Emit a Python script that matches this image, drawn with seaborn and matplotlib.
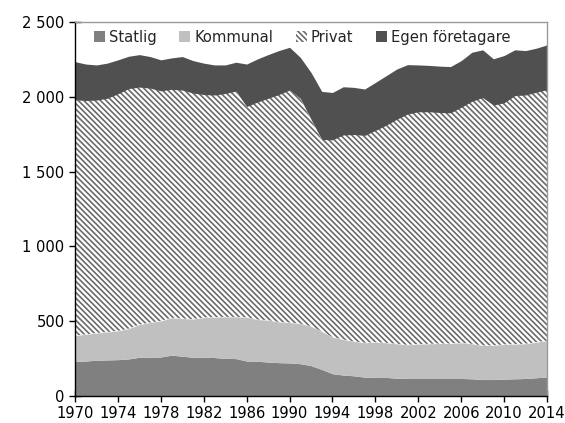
import numpy as np
import pandas as pd
import seaborn as sns
import matplotlib
matplotlib.use("Agg")
import matplotlib.pyplot as plt
from matplotlib.patches import Patch
from matplotlib.ticker import FuncFormatter
from matplotlib import font_manager

years = list(range(1970, 2015))
categories = ["Statlig", "Kommunal", "Privat", "Egen företagare"]

statlig = [230, 234, 239, 241, 243, 248, 259, 259, 261, 273,
           266, 259, 259, 257, 252, 250, 234, 232, 227, 223,
           221, 216, 203, 178, 149, 140, 135, 126, 124, 124,
           119, 117, 117, 117, 117, 117, 117, 115, 110, 110,
           113, 115, 117, 122, 128]
kommunal = [175, 178, 182, 187, 192, 202, 218, 232, 241, 250,
            252, 255, 266, 270, 277, 279, 293, 279, 280, 272,
            270, 268, 263, 254, 245, 238, 230, 230, 236, 232,
            230, 225, 230, 232, 234, 234, 239, 234, 228, 228,
            232, 232, 232, 238, 241]
privat = [1575, 1563, 1557, 1562, 1585, 1605, 1588, 1567, 1538, 1527,
          1527, 1511, 1490, 1485, 1493, 1509, 1408, 1454, 1483, 1520,
          1554, 1506, 1384, 1283, 1318, 1367, 1383, 1386, 1415, 1454,
          1501, 1543, 1553, 1551, 1544, 1542, 1574, 1621, 1657, 1607,
          1615, 1661, 1663, 1670, 1679]
egen = [255, 244, 235, 235, 227, 216, 217, 211, 207, 210,
        224, 217, 210, 201, 191, 193, 284, 288, 292, 294,
        286, 274, 313, 321, 317, 322, 315, 310, 321, 331,
        336, 330, 313, 310, 310, 309, 312, 328, 319, 309,
        316, 306, 297, 295, 299]

x_ticks = list(range(1970, 2015, 4))
y_ticks = [0, 500, 1000, 1500, 2000, 2500]

df = pd.DataFrame({"År": years, "Statlig": statlig, "Kommunal": kommunal,
                   "Privat": privat, "Egen företagare": egen})

sns.set_theme(style="ticks")
cond = [f for f in font_manager.fontManager.ttflist
        if f.name == "DejaVu Sans" and f.stretch in ("condensed", "semi-condensed", 500, 300)]
plt.rcParams["font.family"] = ["DejaVu Sans"]
if cond:
    plt.rcParams["font.stretch"] = "condensed"
    FS = 11.8
else:
    FS = 10.5
HCOL = "#6a6a6a"
plt.rcParams["hatch.color"] = HCOL
plt.rcParams["hatch.linewidth"] = 1.2

HATCH = "\\" * 6

fig = plt.figure(figsize=(5.65, 4.23), dpi=100)
ax = fig.add_axes([75/565, 1-396/423, (547-75)/565, (396-22)/423])

colors = ["#808080", "#c0c0c0", "white", "#505050"]
polys = ax.stackplot(df["År"], df["Statlig"], df["Kommunal"], df["Privat"], df["Egen företagare"],
                     colors=colors, linewidth=0)
polys[2].set_hatch(HATCH)
polys[2].set_edgecolor(HCOL)
polys[2].set_linewidth(0)

ax.set_xlim(1970, 2014)
ax.set_ylim(0, 2500)
ax.set_xticks(x_ticks)
ax.set_yticks(y_ticks)
ax.yaxis.set_major_formatter(FuncFormatter(lambda v, p: f"{v:,.0f}".replace(",", " ")))
ax.tick_params(axis="both", direction="inout", length=9, width=1, color="black",
               labelsize=FS, labelcolor="black")
ax.tick_params(axis="x", pad=3)
ax.tick_params(axis="y", pad=3)
for s in ["left", "bottom"]:
    ax.spines[s].set_color("black")
    ax.spines[s].set_linewidth(1)
for s in ["top", "right"]:
    ax.spines[s].set_color("#9a9a9a")
    ax.spines[s].set_linewidth(1)
ax.set_xlabel("")
ax.set_ylabel("")
ax.grid(False)

handles = [Patch(facecolor=colors[0], edgecolor="none"),
           Patch(facecolor=colors[1], edgecolor="none"),
           Patch(facecolor="white", edgecolor=HCOL, hatch=HATCH, linewidth=0),
           Patch(facecolor=colors[3], edgecolor="none")]
ax.legend(handles, categories, loc="upper left", bbox_to_anchor=(19/472, 1-8/374),
          ncol=4, frameon=False, fontsize=FS, handlelength=0.65, handleheight=0.65,
          handletextpad=0.25, columnspacing=1.4, borderpad=0, borderaxespad=0)

fig.savefig("out.png", dpi=100)
